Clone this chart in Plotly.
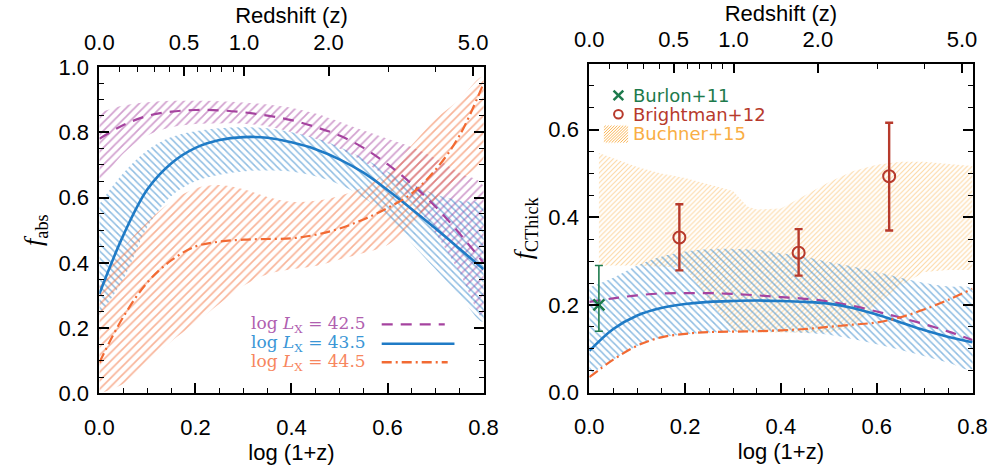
import numpy as np
import plotly.graph_objects as go

# ---------------- data ----------------
# common grid in log(1+z)
logz = [0.0, 0.05, 0.1, 0.15, 0.2, 0.25, 0.3, 0.35, 0.4, 0.45, 0.5,
        0.55, 0.6, 0.65, 0.7, 0.75, 0.8]

# absorbed fraction, left panel
fabs_425 = [0.78, 0.822, 0.85, 0.863, 0.868, 0.867, 0.861, 0.851, 0.837, 0.816,
            0.79, 0.752, 0.702, 0.642, 0.572, 0.49, 0.40]
fabs_425_hi = [0.86, 0.882, 0.892, 0.896, 0.896, 0.895, 0.891, 0.885, 0.875, 0.857,
               0.832, 0.805, 0.78, 0.755, 0.72, 0.675, 0.635]
fabs_425_lo = [0.64, 0.735, 0.79, 0.815, 0.825, 0.827, 0.826, 0.818, 0.80, 0.78,
               0.75, 0.71, 0.66, 0.59, 0.49, 0.37, 0.23]

fabs_435 = [0.305, 0.485, 0.625, 0.705, 0.752, 0.776, 0.785, 0.783, 0.769, 0.748,
            0.717, 0.676, 0.623, 0.565, 0.505, 0.443, 0.38]
fabs_435_hi = [0.58, 0.675, 0.745, 0.785, 0.803, 0.812, 0.815, 0.812, 0.80, 0.782,
               0.755, 0.72, 0.68, 0.642, 0.61, 0.59, 0.575]
fabs_435_lo = [0.24, 0.35, 0.51, 0.605, 0.65, 0.67, 0.68, 0.683, 0.68, 0.665,
               0.64, 0.60, 0.54, 0.46, 0.38, 0.30, 0.22]

fabs_445 = [0.095, 0.235, 0.34, 0.408, 0.45, 0.465, 0.471, 0.473, 0.475, 0.486,
            0.505, 0.533, 0.568, 0.612, 0.685, 0.79, 0.95]
fabs_445_hi = [0.33, 0.445, 0.525, 0.588, 0.628, 0.638, 0.625, 0.602, 0.587, 0.59,
               0.605, 0.632, 0.68, 0.76, 0.84, 0.90, 0.97]
fabs_445_lo = [0.0, 0.03, 0.09, 0.16, 0.215, 0.275, 0.33, 0.365, 0.38, 0.39,
               0.41, 0.43, 0.455, 0.515, 0.58, 0.65, 0.72]

# Compton-thick fraction, right panel
fct_425 = [0.207, 0.215, 0.222, 0.226, 0.227, 0.227, 0.225, 0.222, 0.218, 0.214,
           0.208, 0.198, 0.185, 0.171, 0.156, 0.139, 0.12]
fct_435 = [0.095, 0.145, 0.176, 0.193, 0.202, 0.207, 0.209, 0.21, 0.209, 0.207,
           0.203, 0.193, 0.178, 0.16, 0.142, 0.127, 0.115]
fct_435_hi = [0.24, 0.262, 0.29, 0.31, 0.322, 0.327, 0.328, 0.326, 0.318, 0.31,
              0.298, 0.288, 0.275, 0.262, 0.25, 0.242, 0.235]
fct_435_lo = [0.04, 0.075, 0.106, 0.125, 0.133, 0.137, 0.139, 0.139, 0.138, 0.136,
              0.132, 0.122, 0.11, 0.097, 0.083, 0.068, 0.055]
fct_445 = [0.035, 0.075, 0.107, 0.126, 0.134, 0.138, 0.139, 0.14, 0.142, 0.145,
           0.15, 0.155, 0.16, 0.172, 0.19, 0.212, 0.237]

# Buchner+15 range
buch_x = [0.02, 0.05, 0.1, 0.15, 0.2, 0.25, 0.3, 0.33, 0.35, 0.4, 0.45, 0.5,
          0.55, 0.6, 0.65, 0.7, 0.75, 0.8]
buch_hi = [0.547, 0.535, 0.515, 0.50, 0.49, 0.475, 0.46, 0.425, 0.418, 0.42, 0.45,
           0.48, 0.505, 0.52, 0.527, 0.527, 0.522, 0.517]
buch_lo = [0.29, 0.29, 0.29, 0.288, 0.285, 0.21, 0.14, 0.137, 0.137, 0.137, 0.137,
           0.137, 0.15, 0.20, 0.245, 0.275, 0.28, 0.28]

# Burlon+11
burlon_x = [0.02]
burlon_y = [0.20]
burlon_up = [0.09]
burlon_dn = [0.06]

# Brightman+12
bright_x = [0.188, 0.437, 0.626]
bright_y = [0.354, 0.319, 0.494]
bright_up = [0.076, 0.054, 0.122]
bright_dn = [0.075, 0.052, 0.124]

# redshift axis
z_major = [0.0, 0.5, 1.0, 2.0, 5.0]
z_major_text = ["0.0", "0.5", "1.0", "2.0", "5.0"]
z_minor = [0.1, 0.2, 0.3, 0.4, 0.6, 0.7, 0.8, 0.9, 3.0, 4.0]

# ---------------- styling ----------------
C_PUR = "#a5439f"
C_BLU = "#1f7bc6"
C_ORA = "#f26a33"
C_PUR_T = "#b060b0"
C_BLU_T = "#3a96d6"
C_ORA_T = "#f7865e"
C_GRN = "#1d7a4c"
C_RED = "#b73a2c"
C_BUCH = "#f9ae45"

SANS = "Liberation Sans, Arial, sans-serif"
SERIF = "DejaVu Serif, Liberation Serif, serif"

W, H = 1004, 468


def px(x):
    return x / W


def py(y):
    return 1 - y / H


fig = go.Figure()


def band(xs, lo, hi, color, shape, size, solid, xa, ya, smooth=True, opacity=1.0):
    bx = list(xs) + list(xs)[::-1]
    by = list(hi) + list(lo)[::-1]
    fig.add_trace(go.Scatter(
        x=bx, y=by, xaxis=xa, yaxis=ya, mode="lines",
        line=dict(width=0, color=color, shape="spline" if smooth else "linear",
                  smoothing=1.0),
        fill="toself", fillcolor="rgba(0,0,0,0)",
        fillpattern=dict(shape=shape, fgcolor=color, bgcolor="rgba(0,0,0,0)",
                         size=size, solidity=solid),
        opacity=opacity, hoverinfo="skip", showlegend=False,
    ))


def curve(xs, ys, color, dash, width, xa, ya):
    fig.add_trace(go.Scatter(
        x=xs, y=ys, xaxis=xa, yaxis=ya, mode="lines",
        line=dict(color=color, dash=dash, width=width, shape="spline",
                  smoothing=1.0),
        showlegend=False, hoverinfo="skip"))


DASH = "11px,8px"
DASHDOT = "10px,4px,2px,4px"

# left panel: uncertainty bands
band(logz, fabs_425_lo, fabs_425_hi, C_PUR, "/", 6, 0.3, "x", "y")
band(logz, fabs_435_lo, fabs_435_hi, C_BLU, "\\", 5, 0.3, "x", "y")
band(logz, fabs_445_lo, fabs_445_hi, C_ORA, "/", 6, 0.28, "x", "y")
# left panel: model curves
curve(logz, fabs_425, C_PUR, DASH, 2.2, "x", "y")
curve(logz, fabs_435, C_BLU, "solid", 2.6, "x", "y")
curve(logz, fabs_445, C_ORA, DASHDOT, 2.2, "x", "y")

# right panel: Buchner range and model
band(buch_x, buch_lo, buch_hi, C_BUCH, "/", 3.5, 0.33, "x2", "y2",
     smooth=False, opacity=0.95)
band(logz, fct_435_lo, fct_435_hi, C_BLU, "\\", 5, 0.3, "x2", "y2")
curve(logz, fct_425, C_PUR, DASH, 2.2, "x2", "y2")
curve(logz, fct_435, C_BLU, "solid", 2.6, "x2", "y2")
curve(logz, fct_445, C_ORA, DASHDOT, 2.2, "x2", "y2")

# right panel: observations
fig.add_trace(go.Scatter(
    x=burlon_x, y=burlon_y, xaxis="x2", yaxis="y2", mode="markers",
    marker=dict(symbol="x-thin", size=11, color=C_GRN, line=dict(width=2.5, color=C_GRN)),
    error_y=dict(type="data", array=burlon_up, arrayminus=burlon_dn, color=C_GRN,
                 thickness=1.6, width=4),
    showlegend=False, hoverinfo="skip"))
fig.add_trace(go.Scatter(
    x=bright_x, y=bright_y, xaxis="x2", yaxis="y2", mode="markers",
    marker=dict(symbol="circle-open", size=12, color=C_RED, line=dict(width=2, color=C_RED)),
    error_y=dict(type="data", array=bright_up, arrayminus=bright_dn, color=C_RED,
                 thickness=2.4, width=4),
    showlegend=False, hoverinfo="skip"))

# anchor traces for the redshift axes
for xa, ya in (("x3", "y"), ("x4", "y2")):
    fig.add_trace(go.Scatter(x=[0.0], y=[-1.0], xaxis=xa, yaxis=ya, mode="markers",
                             marker=dict(size=1, color="rgba(0,0,0,0)"),
                             showlegend=False, hoverinfo="skip"))

# ---------------- axes ----------------
tickfont = dict(family=SANS, size=22, color="black")
common_x = dict(range=[0, 0.8], showgrid=False, zeroline=False, showline=True,
                linecolor="black", linewidth=2, ticks="inside", ticklen=10,
                tickwidth=1.6, tickcolor="black", tickfont=tickfont,
                ticklabelstandoff=13,
                tickvals=[0.0, 0.2, 0.4, 0.6, 0.8],
                ticktext=["0.0", "0.2", "0.4", "0.6", "0.8"],
                minor=dict(dtick=0.05, tick0=0, ticks="inside", ticklen=5,
                           tickwidth=1.4, tickcolor="black"),
                title=dict(text="log (1+z)", font=dict(family=SANS, size=22,
                                                       color="black"),
                           standoff=6))
common_y = dict(showgrid=False, zeroline=False, showline=True, linecolor="black",
                linewidth=2, ticks="inside", ticklen=10, tickwidth=1.6,
                tickcolor="black", tickfont=tickfont, mirror="ticks",
                ticklabelstandoff=4,
                minor=dict(dtick=0.05, tick0=0, ticks="inside", ticklen=5,
                           tickwidth=1.4, tickcolor="black"))

top_vals = list(np.log10(1 + np.array(z_major)))
top_minor = list(np.log10(1 + np.array(z_minor)))
common_top = dict(range=[0, 0.8], side="top", showgrid=False, zeroline=False,
                  showline=True, linecolor="black", linewidth=2, ticks="inside",
                  ticklen=9, tickwidth=1.6, tickcolor="black", tickfont=tickfont,
                  ticklabelstandoff=6,
                  tickmode="array", tickvals=top_vals, ticktext=z_major_text,
                  minor=dict(tickmode="array", tickvals=top_minor, ticks="inside",
                             ticklen=5, tickwidth=1.4, tickcolor="black"),
                  title=dict(text="Redshift (z)", font=dict(family=SANS, size=22,
                                                            color="black"),
                             standoff=0))

fig.update_layout(
    width=W, height=H, margin=dict(l=0, r=0, t=0, b=0),
    paper_bgcolor="white", plot_bgcolor="white",
    font=dict(family=SANS, color="black"),
    showlegend=False,
    xaxis=dict(domain=[px(87), px(483)], anchor="y", **common_x),
    yaxis=dict(domain=[py(403), py(58)], anchor="x", range=[0, 1.0],
               tickvals=[0.0, 0.2, 0.4, 0.6, 0.8, 1.0],
               ticktext=["0.0", "0.2", "0.4", "0.6", "0.8", "1.0"],
               title=dict(text="<i>f</i><sub>abs</sub>",
                          font=dict(family="Liberation Serif, serif", size=26,
                                    color="black"),
                          standoff=8),
               **common_y),
    xaxis2=dict(domain=[px(592), px(987)], anchor="y2", **common_x),
    yaxis2=dict(domain=[py(402), py(55)], anchor="x2", range=[0, 0.75],
                tickvals=[0.0, 0.2, 0.4, 0.6],
                ticktext=["0.0", "0.2", "0.4", "0.6"],
                title=dict(text="<i>f</i><sub>CThick</sub>",
                           font=dict(family="Liberation Serif, serif", size=26,
                                     color="black"),
                           standoff=8),
                **common_y),
    xaxis3=dict(overlaying="x", anchor="y", **common_top),
    xaxis4=dict(overlaying="x2", anchor="y2", **common_top),
)

# left-panel key: label followed by line sample
key_rows = [
    ("log <i>L</i><sub>X</sub> = 42.5", C_PUR_T, C_PUR, DASH, 330, 443),
    ("log <i>L</i><sub>X</sub> = 43.5", C_BLU_T, C_BLU, "solid", 350.5, 453),
    ("log <i>L</i><sub>X</sub> = 44.5", C_ORA_T, C_ORA, DASHDOT, 370, 446),
]
for text, tcol, lcol, dash, yy, xend in key_rows:
    fig.add_annotation(x=px(364), y=py(yy), xref="paper", yref="paper",
                       xanchor="right", yanchor="middle", showarrow=False,
                       text=text, font=dict(family=SERIF, size=17, color=tcol))
    fig.add_shape(type="line", xref="paper", yref="paper",
                  x0=px(378), x1=px(xend), y0=py(yy), y1=py(yy),
                  line=dict(color=lcol, width=2.4, dash=dash))

# right-panel key: symbol followed by label
key2_x, key2_text_x = 622, 635
key2_rows = [("Burlon+11", C_GRN, 88), ("Brightman+12", C_RED, 108),
             ("Buchner+15", C_BUCH, 128)]
for text, col, yy in key2_rows:
    fig.add_annotation(x=px(key2_text_x), y=py(yy), xref="paper", yref="paper",
                       xanchor="left", yanchor="middle", showarrow=False,
                       text=text, font=dict(family="DejaVu Sans, sans-serif",
                                            size=18, color=col))
# cross symbol
for dx in (-1, 1):
    fig.add_shape(type="line", xref="paper", yref="paper",
                  x0=px(key2_x - 5), x1=px(key2_x + 5),
                  y0=py(88 - 5 * dx), y1=py(88 + 5 * dx),
                  line=dict(color=C_GRN, width=2.5))
# open circle symbol
fig.add_shape(type="circle", xref="paper", yref="paper",
              x0=px(key2_x - 4.5), x1=px(key2_x + 4.5), y0=py(112.5), y1=py(103.5),
              line=dict(color=C_RED, width=2))
# hatched swatch
sx0, sx1, sy0, sy1 = 607, 632, 120, 138
for c in range(sx0 + sy0 + 2, sx1 + sy1, 3):
    xa_ = max(sx0, c - sy1)
    xb_ = min(sx1, c - sy0)
    fig.add_shape(type="line", xref="paper", yref="paper",
                  x0=px(xa_), x1=px(xb_), y0=py(c - xa_), y1=py(c - xb_),
                  line=dict(color=C_BUCH, width=0.9))

fig.write_html("out.html")
